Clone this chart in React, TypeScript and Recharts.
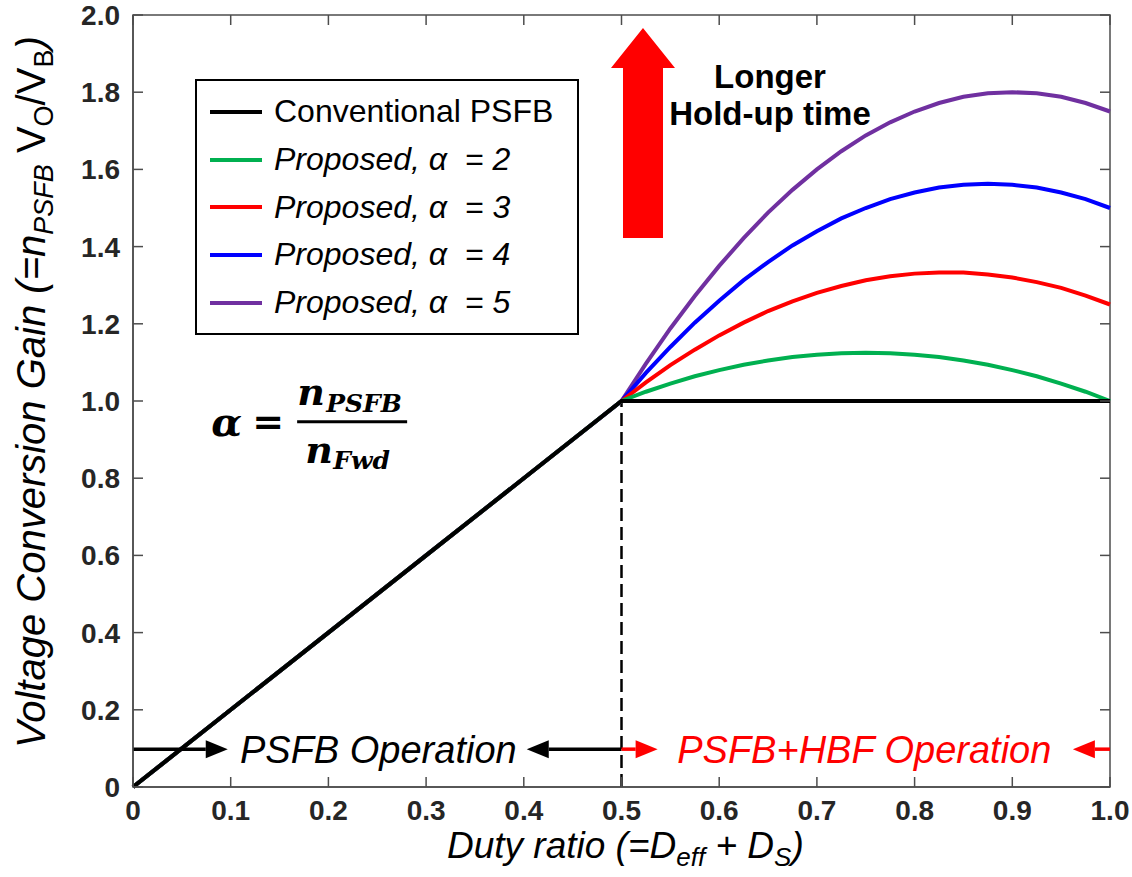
import React from "react";
import { Label, Legend, Line, LineChart, ReferenceArea, ReferenceDot, ReferenceLine, XAxis, YAxis } from "recharts";

// duty ratio samples (x)
const duty = [
  0, 0.1, 0.2, 0.3, 0.4, 0.5,
  0.525, 0.55, 0.575, 0.6, 0.625, 0.65, 0.675, 0.7, 0.725, 0.75,
  0.775, 0.8, 0.825, 0.85, 0.875, 0.9, 0.925, 0.95, 0.975, 1.0,
];

const conventional = [
  0, 0.2, 0.4, 0.6, 0.8, 1.0,
  1, 1, 1, 1, 1, 1, 1, 1, 1, 1,
  1, 1, 1, 1, 1, 1, 1, 1, 1, 1,
];

const alpha2 = [
  0, 0.2, 0.4, 0.6, 0.8, 1.0,
  1.024, 1.045, 1.064, 1.08, 1.094, 1.105, 1.114, 1.12, 1.124, 1.125,
  1.124, 1.12, 1.114, 1.105, 1.094, 1.08, 1.064, 1.045, 1.024, 1.0,
];

const alpha3 = [
  0, 0.2, 0.4, 0.6, 0.8, 1.0,
  1.048, 1.093, 1.133, 1.17, 1.203, 1.233, 1.258, 1.28, 1.298, 1.313,
  1.323, 1.33, 1.333, 1.333, 1.328, 1.32, 1.308, 1.293, 1.273, 1.25,
];

const alpha4 = [
  0, 0.2, 0.4, 0.6, 0.8, 1.0,
  1.073, 1.14, 1.203, 1.26, 1.313, 1.36, 1.403, 1.44, 1.473, 1.5,
  1.523, 1.54, 1.553, 1.56, 1.563, 1.56, 1.553, 1.54, 1.523, 1.5,
];

const alpha5 = [
  0, 0.2, 0.4, 0.6, 0.8, 1.0,
  1.097, 1.188, 1.272, 1.35, 1.422, 1.488, 1.547, 1.6, 1.647, 1.688,
  1.722, 1.75, 1.772, 1.788, 1.797, 1.8, 1.797, 1.788, 1.772, 1.75,
];

const seriesKeys = ["conv", "a2", "a3", "a4", "a5"];
const seriesNames = [
  "Conventional PSFB",
  "Proposed, \u03B1  = 2",
  "Proposed, \u03B1  = 3",
  "Proposed, \u03B1  = 4",
  "Proposed, \u03B1  = 5",
];

const xTicks = [0, 0.1, 0.2, 0.3, 0.4, 0.5, 0.6, 0.7, 0.8, 0.9, 1.0];
const yTicks = [0, 0.2, 0.4, 0.6, 0.8, 1.0, 1.2, 1.4, 1.6, 1.8, 2.0];

const rows = duty.map((d, i) => ({
  d,
  conv: conventional[i],
  a2: alpha2[i],
  a3: alpha3[i],
  a4: alpha4[i],
  a5: alpha5[i],
}));

const COLORS: Record<string, string> = {
  conv: "#000000",
  a2: "#00b050",
  a3: "#ff0000",
  a4: "#0000ff",
  a5: "#7030a0",
};

const FONT = "'Liberation Sans', Arial, sans-serif";
const MATH = "'DejaVu Serif', serif";
const AXIS = "#4d4d4d";

const fmt = (v: number) => (v === 0 ? "0" : v.toFixed(1));

const XTick = (p: any) => (
  <text x={p.x} y={p.y} dy="0.71em" textAnchor="middle" fontSize={28} fontWeight="bold" fill="#262626" fontFamily={FONT}>
    {fmt(p.payload.value)}
  </text>
);

const YTick = (p: any) => (
  <text x={p.x} y={p.y} dy="0.36em" textAnchor="end" fontSize={28} fontWeight="bold" fill="#262626" fontFamily={FONT}>
    {fmt(p.payload.value)}
  </text>
);

// inward tick marks (MATLAB box style)
const tickMark = (dx: number, dy: number) => (p: any) => (
  <line x1={p.cx} y1={p.cy} x2={p.cx + dx} y2={p.cy + dy} stroke={AXIS} strokeWidth={1.5} />
);

const xLabel = () => (
  <text x={447} y={858} fontSize={37} fontStyle="italic" fontFamily={FONT} fill="#000">
    Duty ratio (=D
    <tspan fontSize={26} dy={8}>eff</tspan>
    <tspan dy={-8}> + D</tspan>
    <tspan fontSize={26} dy={8}>S</tspan>
    <tspan dy={-8}>)</tspan>
  </text>
);

const yLabel = () => (
  <text transform="translate(45,748) rotate(-90)" fontSize={40} fontStyle="italic" fontFamily={FONT} fill="#000">
    Voltage Conversion Gain (=n
    <tspan fontSize={27} dy={8}>PSFB</tspan>
    <tspan dy={-8} fontStyle="normal"> V</tspan>
    <tspan fontSize={27} dy={8} fontStyle="normal">O</tspan>
    <tspan dy={-8} fontStyle="normal">/V</tspan>
    <tspan fontSize={27} dy={8} fontStyle="normal">B</tspan>
    <tspan dy={-8}>)</tspan>
  </text>
);

const arrow = (color: string) => (p: any) => {
  const { x1, y1, x2, y2 } = p;
  const dir = Math.sign(x2 - x1) || 1;
  const bx = x2 - dir * 22;
  return (
    <g>
      <line x1={x1} y1={y1} x2={bx} y2={y2} stroke={color} strokeWidth={3.5} />
      <polygon points={`${x2},${y2} ${bx},${y2 - 9} ${bx},${y2 + 9}`} fill={color} />
    </g>
  );
};

const bigArrow = (p: any) => {
  const { x1, y1, y2 } = p;
  const pts = [
    [x1 - 20, y1],
    [x1 - 20, y2 + 40],
    [x1 - 32, y2 + 40],
    [x1, y2],
    [x1 + 32, y2 + 40],
    [x1 + 20, y2 + 40],
    [x1 + 20, y1],
  ]
    .map((q) => q.join(","))
    .join(" ");
  return <polygon points={pts} fill="#ff0000" />;
};

const noteText = (text: string, size: number, color: string) => (p: any) => (
  <text x={p.cx} y={p.cy + size * 0.36} fontSize={size} fontStyle="italic" fontFamily={FONT} fill={color}>
    {text}
  </text>
);

const holdUp = (p: any) => (
  <g transform={`translate(${p.cx},${p.cy})`} fontFamily={FONT} fontWeight="bold" fontSize={33} fill="#000" textAnchor="middle">
    <text x={0} y={0}>Longer</text>
    <text x={0} y={37}>Hold-up time</text>
  </g>
);

const formula = (p: any) => (
  <g transform={`translate(${p.cx},${p.cy})`} fontFamily={MATH} fontWeight="bold" fontStyle="italic" fill="#000">
    <text x={-86} y={14} fontSize={40}>{"\u03B1"}</text>
    <text x={-45} y={13} fontSize={38} fontStyle="normal">=</text>
    <line x1={0} y1={0} x2={110} y2={0} stroke="#000" strokeWidth={3} />
    <text x={0} y={-17} fontSize={38}>n</text>
    <text x={29} y={-10} fontSize={25}>PSFB</text>
    <text x={8} y={41} fontSize={38}>n</text>
    <text x={36} y={47} fontSize={25}>Fwd</text>
  </g>
);

const renderLegend = () => (
  <div
    style={{
      width: 384,
      height: 256,
      boxSizing: "border-box",
      border: "2px solid #000",
      background: "#fff",
      paddingTop: 7,
      fontFamily: FONT,
      fontSize: 32,
      color: "#000",
    }}
  >
    {seriesNames.map((name, i) => (
      <div key={name} style={{ display: "flex", alignItems: "center", height: 47.7 }}>
        <svg width={52} height={6} style={{ marginLeft: 13, marginRight: 12 }}>
          <line x1={0} y1={3} x2={52} y2={3} stroke={COLORS[seriesKeys[i]]} strokeWidth={4} />
        </svg>
        <span style={{ fontStyle: i === 0 ? "normal" : "italic", whiteSpace: "pre", lineHeight: "47px" }}>{name}</span>
      </div>
    ))}
  </div>
);

export default function App() {
  const drawOrder = ["a5", "a4", "a3", "a2", "conv"];
  return (
    <div style={{ position: "absolute", left: 0, top: 0, background: "#fff" }}>
      <LineChart width={1132} height={877} data={rows} margin={{ top: 15, right: 22, bottom: 0, left: 0 }}>
        <XAxis
          dataKey="d"
          type="number"
          domain={[0, 1]}
          ticks={xTicks}
          interval={0}
          height={90}
          tickLine={false}
          tickSize={0}
          tickMargin={13}
          stroke={AXIS}
          strokeWidth={1.5}
          tick={<XTick />}
        >
          <Label content={xLabel} />
        </XAxis>
        <YAxis
          type="number"
          domain={[0, 2]}
          ticks={yTicks}
          interval={0}
          width={133}
          tickLine={false}
          tickSize={0}
          tickMargin={13}
          stroke={AXIS}
          strokeWidth={1.5}
          tick={<YTick />}
        >
          <Label content={yLabel} />
        </YAxis>
        <ReferenceArea x1={0} x2={1} y1={0} y2={2} fill="none" stroke={AXIS} strokeWidth={1.5} ifOverflow="visible" />
        {xTicks.map((v) => (
          <ReferenceDot key={`xb${v}`} x={v} y={0} r={0} ifOverflow="visible" shape={tickMark(0, -10)} />
        ))}
        {xTicks.map((v) => (
          <ReferenceDot key={`xt${v}`} x={v} y={2} r={0} ifOverflow="visible" shape={tickMark(0, 10)} />
        ))}
        {yTicks.map((v) => (
          <ReferenceDot key={`yl${v}`} x={0} y={v} r={0} ifOverflow="visible" shape={tickMark(10, 0)} />
        ))}
        {yTicks.map((v) => (
          <ReferenceDot key={`yr${v}`} x={1} y={v} r={0} ifOverflow="visible" shape={tickMark(-10, 0)} />
        ))}
        <Legend layout="horizontal" verticalAlign="middle" align="center" wrapperStyle={{ left: 195, top: 79, width: 384, height: 256 }} content={renderLegend} />
        <ReferenceLine
          segment={[{ x: 0.5, y: 0 }, { x: 0.5, y: 1 }]}
          stroke="#000"
          strokeWidth={2.5}
          strokeDasharray="13 6"
          ifOverflow="visible"
        />
        {drawOrder.map((k) => (
          <Line
            key={k}
            dataKey={k}
            type="linear"
            stroke={COLORS[k]}
            strokeWidth={4}
            dot={false}
            activeDot={false}
            isAnimationActive={false}
          />
        ))}
        <ReferenceLine segment={[{ x: 0, y: 0.098 }, { x: 0.097, y: 0.098 }]} ifOverflow="visible" shape={arrow("#000")} />
        <ReferenceLine segment={[{ x: 0.5, y: 0.098 }, { x: 0.403, y: 0.098 }]} ifOverflow="visible" shape={arrow("#000")} />
        <ReferenceLine segment={[{ x: 0.5, y: 0.098 }, { x: 0.537, y: 0.098 }]} ifOverflow="visible" shape={arrow("#ff0000")} />
        <ReferenceLine segment={[{ x: 1.0, y: 0.098 }, { x: 0.962, y: 0.098 }]} ifOverflow="visible" shape={arrow("#ff0000")} />
        <ReferenceLine segment={[{ x: 0.522, y: 1.422 }, { x: 0.522, y: 1.966 }]} ifOverflow="visible" shape={bigArrow} />
        <ReferenceDot x={0.1095} y={0.098} r={0} ifOverflow="visible" shape={noteText("PSFB Operation", 38, "#000")} />
        <ReferenceDot x={0.557} y={0.098} r={0} ifOverflow="visible" shape={noteText("PSFB+HBF Operation", 38, "#ff0000")} />
        <ReferenceDot x={0.652} y={1.811} r={0} ifOverflow="visible" shape={holdUp} />
        <ReferenceDot x={0.168} y={0.946} r={0} ifOverflow="visible" shape={formula} />
      </LineChart>
    </div>
  );
}
